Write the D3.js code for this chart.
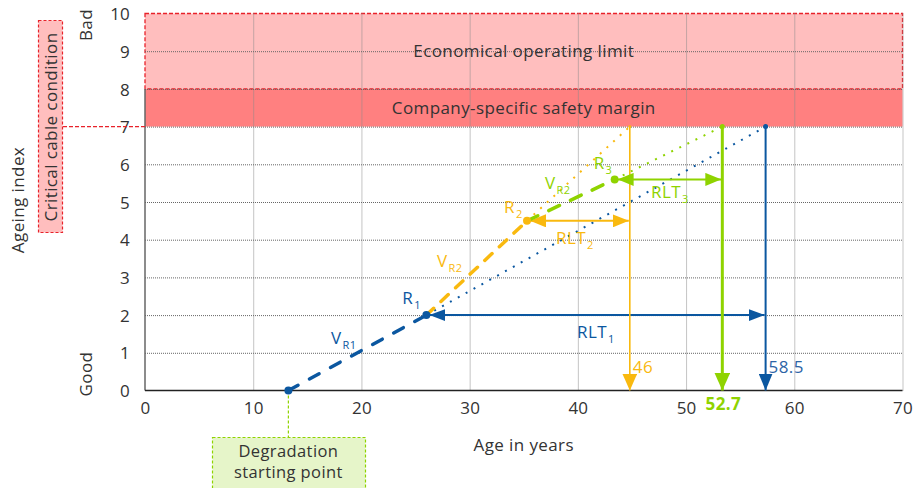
<!DOCTYPE html>
<html>
<head>
<meta charset="utf-8">
<script src="https://cdn.jsdelivr.net/npm/d3@7"></script>
<style>
  body { margin: 0; background: #fff; }
  svg text { font-family: "Open Sans", "Noto Sans", sans-serif; fill: #333; letter-spacing: 0.4px; }
  .tick text { font-size: 17px; letter-spacing: 0.2px; }
</style>
</head>
<body>
<div id="chart"></div>
<script>
// --- Data ---
const xTicks = [0, 10, 20, 30, 40, 50, 60, 70];
const yTicks = [0, 1, 2, 3, 4, 5, 6, 7, 8, 9, 10];

// measured points: degradation start, R1, R2, R3
const pointNames = ["Start", "R1", "R2", "R3"];
const pointAges = [13.25, 26, 35.3, 43.4];
const pointIndex = [0, 2, 4.5, 5.6];

// projected age where each trend reaches the critical condition (R1, R2, R3)
const endAges = [57.35, 44.8, 53.35];
const endLabels = ["58.5", "46", "52.7"];
const criticalIndex = 7;

// bands: [from, to, label]
const bandFrom = [7, 8];
const bandTo = [8, 10];
const bandLabels = ["Company-specific safety margin", "Economical operating limit"];

const blue = "#0b57a0", orange = "#f9b90f", green = "#8fd300", red = "#e8222a";
const seriesColors = [blue, orange, green];

// --- Setup ---
const width = 914, height = 488;
const svg = d3.select("#chart").append("svg")
    .attr("width", width)
    .attr("height", height);

const x = d3.scaleLinear().domain([0, 70]).range([145, 902.5]);
const y = d3.scaleLinear().domain([0, 10]).range([390.5, 13.5]);

// arrowhead markers
const defs = svg.append("defs");
function marker(id, color, w, h) {
    defs.append("marker")
        .attr("id", id)
        .attr("viewBox", `0 ${-w / 2} ${h} ${w}`)
        .attr("refX", h).attr("refY", 0)
        .attr("markerUnits", "userSpaceOnUse")
        .attr("markerWidth", h).attr("markerHeight", w)
        .attr("orient", "auto-start-reverse")
        .append("path")
        .attr("d", `M0,${-w / 2}L${h},0L0,${w / 2}Z`)
        .attr("fill", color);
}
marker("a-blue", blue, 12, 16);
marker("a-orange", orange, 13, 16);
marker("a-green", green, 13, 16);
marker("v-blue", blue, 14, 17);
marker("v-orange", orange, 15, 17);
marker("v-green", green, 16, 18);
const hMarks = ["a-blue", "a-orange", "a-green"];
const vMarks = ["v-blue", "v-orange", "v-green"];

// --- Bands ---
bandFrom.forEach((b, i) => {
    svg.append("rect")
        .attr("x", x(0)).attr("y", y(bandTo[i]))
        .attr("width", x(70) - x(0)).attr("height", y(b) - y(bandTo[i]))
        .attr("fill", i === 0 ? "#ff8080" : "#ffbebe");
});
svg.append("rect")
    .attr("x", x(0)).attr("y", y(10))
    .attr("width", x(70) - x(0)).attr("height", y(8) - y(10))
    .attr("fill", "none").attr("stroke", red)
    .attr("stroke-width", 1.3).attr("stroke-dasharray", "4 2");

// --- Grid ---
const gridX = svg.append("g")
    .attr("transform", `translate(0,${y(0)})`)
    .call(d3.axisBottom(x).tickValues(xTicks.slice(1)).tickSize(-(y(0) - y(10))).tickFormat(""));
gridX.select(".domain").remove();
gridX.selectAll("line").attr("stroke", "#8a8a8a").attr("stroke-dasharray", "1 1");

const gridY = svg.append("g")
    .attr("transform", `translate(${x(0)},0)`)
    .call(d3.axisLeft(y).tickValues(yTicks.slice(1, 10)).tickSize(-(x(70) - x(0))).tickFormat(""));
gridY.select(".domain").remove();
gridY.selectAll("line").attr("stroke", "#666").attr("stroke-dasharray", "1 1");

// band labels
bandLabels.forEach((t, i) => {
    svg.append("text")
        .attr("x", x(35)).attr("y", (y(bandFrom[i]) + y(bandTo[i])) / 2 + 6)
        .attr("text-anchor", "middle")
        .style("font-size", "17px")
        .text(t);
});

// --- Axes ---
const xAxis = svg.append("g")
    .attr("transform", `translate(0,${y(0)})`)
    .call(d3.axisBottom(x).tickValues(xTicks).tickSize(0).tickPadding(11));
xAxis.select(".domain").remove();

const yAxis = svg.append("g")
    .attr("transform", `translate(${x(0)},0)`)
    .call(d3.axisLeft(y).tickValues(yTicks).tickSize(0).tickPadding(15));
yAxis.select(".domain").remove();
yAxis.selectAll("text").attr("dy", "0.36em");

svg.append("line")
    .attr("x1", x(0)).attr("x2", x(0)).attr("y1", y(0)).attr("y2", y(8))
    .attr("stroke", "#666").attr("stroke-width", 1.5);
svg.append("line")
    .attr("x1", x(0)).attr("x2", x(70)).attr("y1", y(0)).attr("y2", y(0))
    .attr("stroke", "#222").attr("stroke-width", 1.5);

svg.append("text")
    .attr("x", x(35)).attr("y", 451)
    .attr("text-anchor", "middle").style("font-size", "17px")
    .text("Age in years");

function vText(t, cx, cy, size) {
    svg.append("text")
        .attr("transform", `translate(${cx},${cy}) rotate(-90)`)
        .attr("text-anchor", "middle").attr("dy", "0.35em")
        .style("font-size", size)
        .text(t);
}
vText("Ageing index", 18, 200, "17px");
vText("Bad", 86, 25, "17px");
vText("Good", 86, 374, "17px");

// critical condition box
svg.append("line")
    .attr("x1", 63).attr("x2", x(0)).attr("y1", y(criticalIndex)).attr("y2", y(criticalIndex))
    .attr("stroke", red).attr("stroke-width", 1.3).attr("stroke-dasharray", "4 2");
svg.append("rect")
    .attr("x", 38.5).attr("y", 20.5).attr("width", 24).attr("height", 212)
    .attr("fill", "#ffbebe").attr("stroke", red)
    .attr("stroke-width", 1.2).attr("stroke-dasharray", "3 2");
vText("Critical cable condition", 51, 127, "17px");

// degradation starting point box
svg.append("line")
    .attr("x1", x(pointAges[0])).attr("x2", x(pointAges[0]))
    .attr("y1", y(0)).attr("y2", 437)
    .attr("stroke", green).attr("stroke-width", 1.2).attr("stroke-dasharray", "3 2");
svg.append("rect")
    .attr("x", 212.5).attr("y", 437.5).attr("width", 153).attr("height", 55)
    .attr("fill", "#e6f5c9").attr("stroke", green)
    .attr("stroke-width", 1.2).attr("stroke-dasharray", "3 2");
svg.append("text")
    .attr("x", x(pointAges[0])).attr("y", 457)
    .attr("text-anchor", "middle").style("font-size", "16.5px")
    .text("Degradation");
svg.append("text")
    .attr("x", x(pointAges[0])).attr("y", 478)
    .attr("text-anchor", "middle").style("font-size", "16.5px")
    .text("starting point");

// --- Trends ---
const marks = svg.append("g");
for (let i = 0; i < 3; i++) {
    const c = seriesColors[i];
    const ax = pointAges[i + 1], ay = pointIndex[i + 1];
    // dotted projection to critical condition
    marks.append("line")
        .attr("x1", x(ax)).attr("y1", y(ay))
        .attr("x2", x(endAges[i])).attr("y2", y(criticalIndex))
        .attr("stroke", c).attr("stroke-width", 2).attr("stroke-dasharray", "2 7");
    // vertical drop to age axis
    marks.append("line")
        .attr("x1", x(endAges[i])).attr("y1", y(criticalIndex))
        .attr("x2", x(endAges[i])).attr("y2", y(0))
        .attr("stroke", c).attr("stroke-width", i === 2 ? 3 : i === 0 ? 2 : 1.6)
        .attr("marker-end", `url(#${vMarks[i]})`);
    marks.append("circle")
        .attr("cx", x(endAges[i])).attr("cy", y(criticalIndex)).attr("r", i === 1 ? 1.5 : 2.5)
        .attr("fill", c);
    // remaining lifetime arrow
    marks.append("line")
        .attr("x1", x(ax) + 3).attr("y1", y(ay))
        .attr("x2", x(endAges[i]) - 1).attr("y2", y(ay))
        .attr("stroke", c).attr("stroke-width", 2)
        .attr("marker-start", `url(#${hMarks[i]})`)
        .attr("marker-end", `url(#${hMarks[i]})`);
}

// dashed measured segments
for (let i = 0; i < 3; i++) {
    marks.append("line")
        .attr("x1", x(pointAges[i])).attr("y1", y(pointIndex[i]))
        .attr("x2", x(pointAges[i + 1])).attr("y2", y(pointIndex[i + 1]))
        .attr("stroke", seriesColors[i]).attr("stroke-width", 3.5)
        .attr("stroke-linecap", "round")
        .attr("stroke-dasharray", i === 0 ? "11 13" : i === 1 ? "10 10" : "12 12");
}
pointAges.forEach((a, i) => {
    marks.append("circle")
        .attr("cx", x(a)).attr("cy", y(pointIndex[i])).attr("r", 4)
        .attr("fill", seriesColors[Math.max(0, i - 1)]);
});

// --- Labels ---
function subLabel(main, sub, px, py, color) {
    const t = svg.append("text")
        .attr("x", px).attr("y", py)
        .style("font-size", "17px").style("fill", color);
    t.append("tspan").text(main);
    t.append("tspan").attr("dx", 1).attr("dy", 5).style("font-size", "11px").style("fill", color).text(sub);
}
subLabel("R", "1", x(pointAges[1]) - 24, y(pointIndex[1]) - 11, blue);
subLabel("V", "R1", 331, 344, blue);
subLabel("V", "R2", 437, 267, orange);
subLabel("R", "2", x(pointAges[2]) - 23, 213, orange);
subLabel("V", "R2", 545, 189, green);
subLabel("R", "3", x(pointAges[3]) - 21, 169, green);
subLabel("RLT", "1", 577, 338, blue);
subLabel("RLT", "2", 556, 244, orange);
subLabel("RLT", "3", 651, 198, green);

svg.append("text").attr("x", x(endAges[1]) + 3).attr("y", 373)
    .style("font-size", "17px").style("fill", orange).text(endLabels[1]);
svg.append("text").attr("x", x(endAges[0]) + 3).attr("y", 373)
    .style("font-size", "17px").style("fill", "#2d64a6").text(endLabels[0]);
svg.append("text").attr("x", x(endAges[2]) + 1).attr("y", 410)
    .attr("text-anchor", "middle")
    .style("font-size", "17px").style("font-weight", "bold").style("fill", green).text(endLabels[2]);
</script>
</body>
</html>
